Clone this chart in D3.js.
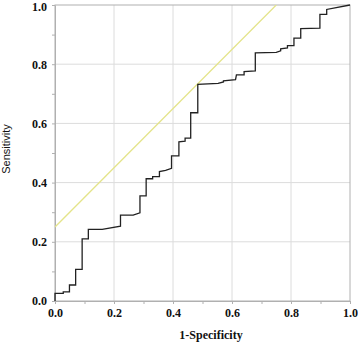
<!DOCTYPE html>
<html><head><meta charset="utf-8">
<script src="https://cdn.jsdelivr.net/npm/d3@7"></script>
<style>body{margin:0;background:#fff}svg{display:block}</style>
</head><body>
<svg id="c" width="358" height="344"></svg>
<script>
const fpr = [0,0,0.028,0.028,0.049,0.049,0.07,0.07,0.092,0.092,0.113,0.113,0.16,0.222,0.222,0.265,0.288,0.288,0.309,0.309,0.331,0.331,0.354,0.354,0.375,0.395,0.395,0.42,0.42,0.441,0.441,0.46,0.46,0.484,0.484,0.553,0.571,0.571,0.612,0.615,0.641,0.641,0.679,0.679,0.75,0.765,0.765,0.788,0.788,0.81,0.81,0.833,0.833,0.898,0.898,0.921,0.921,1.0];
const tpr = [0,0.026,0.026,0.031,0.031,0.054,0.054,0.107,0.107,0.21,0.21,0.242,0.242,0.253,0.29,0.29,0.298,0.355,0.355,0.413,0.413,0.42,0.42,0.437,0.441,0.448,0.49,0.49,0.538,0.54,0.55,0.55,0.636,0.636,0.732,0.735,0.74,0.744,0.748,0.764,0.764,0.775,0.777,0.838,0.84,0.845,0.852,0.855,0.863,0.863,0.888,0.888,0.92,0.922,0.968,0.968,0.985,1.0];
const refX = [0, 0.75];
const refY = [0.25, 1.0];
const majorTicks = [0,0.2,0.4,0.6,0.8,1.0];
const minorTicks = [0.1,0.3,0.5,0.7,0.9];

const svg = d3.select('#c');
const L=55,R=350,T=5,B=301;
const x = d3.scaleLinear().domain([0,1]).range([L,R]);
const y = d3.scaleLinear().domain([0,1]).range([B,T]);
const serif = "'Liberation Serif','Times New Roman',serif";

// grid
svg.append('g').selectAll('line').data(majorTicks.slice(1,5)).join('line')
  .attr('x1',d=>x(d)).attr('x2',d=>x(d)).attr('y1',T).attr('y2',B)
  .attr('stroke','#dcdcdc').attr('stroke-width',1);
svg.append('g').selectAll('line').data(majorTicks.slice(1,5)).join('line')
  .attr('y1',d=>y(d)).attr('y2',d=>y(d)).attr('x1',L).attr('x2',R)
  .attr('stroke','#dcdcdc').attr('stroke-width',1);

// frame
svg.append('rect').attr('x',L).attr('y',T).attr('width',R-L).attr('height',B-T)
  .attr('fill','none').attr('stroke','#b0b0b0').attr('stroke-width',1);

// axes
const xAxis = d3.axisBottom(x).tickValues(majorTicks).tickFormat(d3.format('.1f')).tickSize(3).tickSizeOuter(0);
const gx = svg.append('g').attr('transform',`translate(0,${B})`).call(xAxis);
gx.select('.domain').attr('stroke','#b0b0b0');
gx.selectAll('.tick line').attr('stroke','#b0b0b0');
gx.selectAll('text').attr('font-family',serif).attr('font-weight','bold').attr('font-size',12).attr('fill','#111').attr('dy','0.85em');
const gxm = svg.append('g').attr('transform',`translate(0,${B})`).call(d3.axisBottom(x).tickValues(minorTicks).tickFormat('').tickSize(3).tickSizeOuter(0));
gxm.select('.domain').remove(); gxm.selectAll('line').attr('stroke','#b0b0b0');

const yAxis = d3.axisLeft(y).tickValues(majorTicks).tickFormat(d3.format('.1f')).tickSize(3).tickSizeOuter(0);
const gy = svg.append('g').attr('transform',`translate(${L},0)`).call(yAxis);
gy.select('.domain').attr('stroke','#b0b0b0');
gy.selectAll('.tick line').attr('stroke','#b0b0b0');
gy.selectAll('text').attr('font-family',serif).attr('font-weight','bold').attr('font-size',12).attr('fill','#111').attr('x',-8)
  .attr('dy',d=>d===1?'0.45em':'0.32em');
const gym = svg.append('g').attr('transform',`translate(${L},0)`).call(d3.axisLeft(y).tickValues(minorTicks).tickFormat('').tickSize(3).tickSizeOuter(0));
gym.select('.domain').remove(); gym.selectAll('line').attr('stroke','#b0b0b0');

// clip
svg.append('clipPath').attr('id','clp').append('rect').attr('x',L).attr('y',T).attr('width',R-L).attr('height',B-T);

// reference line
const ext = d3.range(2).map(i=>[refX[i],refY[i]]);
svg.append('path').attr('clip-path','url(#clp)')
  .attr('d',d3.line().x(d=>x(d[0])).y(d=>y(d[1]))(ext))
  .attr('fill','none').attr('stroke','#e4e48a').attr('stroke-width',1.3);

// ROC curve
const pts = fpr.map((v,i)=>[v,tpr[i]]);
svg.append('path')
  .attr('d',d3.line().x(d=>x(d[0])).y(d=>y(d[1]))(pts))
  .attr('fill','none').attr('stroke','#222').attr('stroke-width',1.3);

// labels
svg.append('text').attr('x',211).attr('y',339).attr('text-anchor','middle')
  .attr('font-family',serif).attr('font-weight','bold').attr('font-size',12).attr('fill','#111').text('1-Specificity');
svg.append('text').attr('transform','translate(10,149) rotate(-90)').attr('text-anchor','middle')
  .attr('font-family',"'Liberation Sans',Arial,sans-serif").attr('font-size',11).attr('fill','#111').text('Sensitivity');
</script>
</body></html>
